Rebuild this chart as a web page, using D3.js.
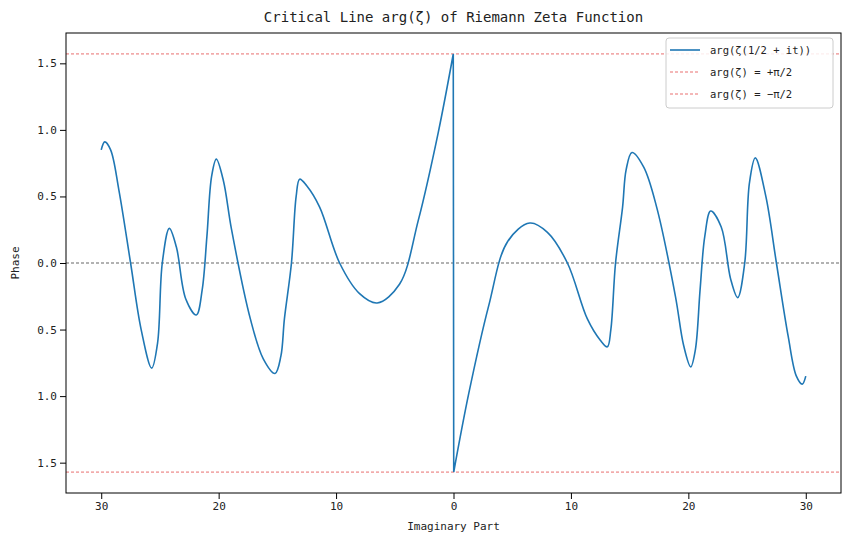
<!DOCTYPE html>
<html><head><meta charset="utf-8">
<script src="https://cdn.jsdelivr.net/npm/d3@7"></script>
<style>body{margin:0;background:#fff}text{font-family:"DejaVu Sans Mono",monospace;fill:#222}</style>
</head><body><svg id="c" width="850" height="544"></svg>
<script>
const tLeft=[-30,-29.7,-29.2,-28.5,-27.5,-26.6,-25.7,-25.2,-24.8,-24.2,-23.6,-22.8,-21.9,-21.4,-21.0,-20.6,-20.2,-19.6,-18.9,-17.3,-16.2,-15.2,-14.7,-14.4,-13.8,-13.4,-13.1,-12.5,-11.4,-9.7,-8.0,-6.5,-4.6,-3.0,-1.3,-0.02];
const phaseLeft=[0.85,0.91,0.85,0.55,0.0,-0.5,-0.79,-0.6,0.0,0.26,0.12,-0.27,-0.39,-0.2,0.2,0.65,0.78,0.62,0.25,-0.42,-0.72,-0.83,-0.7,-0.42,0.0,0.5,0.63,0.58,0.42,0.0,-0.23,-0.30,-0.16,0.32,0.98,1.57];
const tRight=[0.02,1.3,3.0,4.6,6.5,8.0,9.7,11.4,12.5,13.1,13.4,13.8,14.4,14.7,15.2,16.2,17.3,18.9,19.6,20.2,20.6,21.0,21.4,21.9,22.8,23.6,24.2,24.8,25.2,25.7,26.6,27.5,28.5,29.2,29.7,30];
const phaseRight=[-1.57,-0.98,-0.32,0.16,0.30,0.23,0.0,-0.42,-0.58,-0.63,-0.5,0.0,0.42,0.7,0.83,0.72,0.42,-0.25,-0.62,-0.78,-0.65,-0.2,0.2,0.39,0.27,-0.12,-0.26,0.0,0.6,0.79,0.5,0.0,-0.55,-0.85,-0.91,-0.85];
const xTicks=[-30,-20,-10,0,10,20,30];
const yTicks=[-1.5,-1.0,-0.5,0.0,0.5,1.0,1.5];

const svg=d3.select("#c");
const L=66,R=841,T=33,B=493;
const x=d3.scaleLinear().domain([-33,33]).range([L,R]);
const y=d3.scaleLinear().domain([-Math.PI/2*1.1,Math.PI/2*1.1]).range([B,T]);
const left=tLeft.map((t,i)=>[t,phaseLeft[i]]);
const right=tRight.map((t,i)=>[t,phaseRight[i]]);

[[Math.PI/2,"#e03030"],[-Math.PI/2,"#e03030"],[0,"#222"]].forEach(([v,c])=>{
  svg.append("line").attr("x1",L).attr("x2",R).attr("y1",y(v)).attr("y2",y(v))
   .attr("stroke",c).attr("stroke-width",0.7).attr("stroke-dasharray","3,2");
});
const line=d3.line().x(d=>x(d[0])).y(d=>y(d[1])).curve(d3.curveCatmullRom.alpha(0.5));
svg.append("path").attr("fill","none").attr("stroke","#1f77b4").attr("stroke-width",1.6)
 .attr("d",line(left)+"L"+line(right).slice(1));

const xa=svg.append("g").attr("transform",`translate(0,${B})`).call(d3.axisBottom(x).tickValues(xTicks).tickFormat(d=>Math.abs(d)).tickSizeOuter(0));
const ya=svg.append("g").attr("transform",`translate(${L},0)`).call(d3.axisLeft(y).tickValues(yTicks).tickFormat(d=>Math.abs(d).toFixed(1)).tickSizeOuter(0));
[xa,ya].forEach(a=>{a.selectAll("text").attr("font-size",11).style("font-family","DejaVu Sans Mono");a.select(".domain").remove();});
svg.append("rect").attr("x",L).attr("y",T).attr("width",R-L).attr("height",B-T).attr("fill","none").attr("stroke","#000").attr("stroke-width",1);

svg.append("text").attr("x",(L+R)/2).attr("y",22).attr("text-anchor","middle").attr("font-size",14).text("Critical Line arg(ζ) of Riemann Zeta Function");
svg.append("text").attr("x",(L+R)/2).attr("y",530).attr("text-anchor","middle").attr("font-size",11).text("Imaginary Part");
svg.append("text").attr("transform",`translate(19,${(T+B)/2}) rotate(-90)`).attr("text-anchor","middle").attr("font-size",11).text("Phase");

const lg=svg.append("g").attr("transform","translate(666,38)");
lg.append("rect").attr("width",167).attr("height",70).attr("rx",3).attr("fill","#fff").attr("fill-opacity",0.85).attr("stroke","#ccc");
const items=[["arg(ζ(1/2 + it))","#1f77b4",1.6,null],["arg(ζ) = +π/2","#e03030",0.7,"3,2"],["arg(ζ) = −π/2","#e03030",0.7,"3,2"]];
items.forEach((it,i)=>{
  const yy=12+i*22;
  lg.append("line").attr("x1",4).attr("x2",34).attr("y1",yy).attr("y2",yy).attr("stroke",it[1]).attr("stroke-width",it[2]).attr("stroke-dasharray",it[3]);
  lg.append("text").attr("x",44).attr("y",yy+4).attr("font-size",10.5).text(it[0]);
});
</script></body></html>
